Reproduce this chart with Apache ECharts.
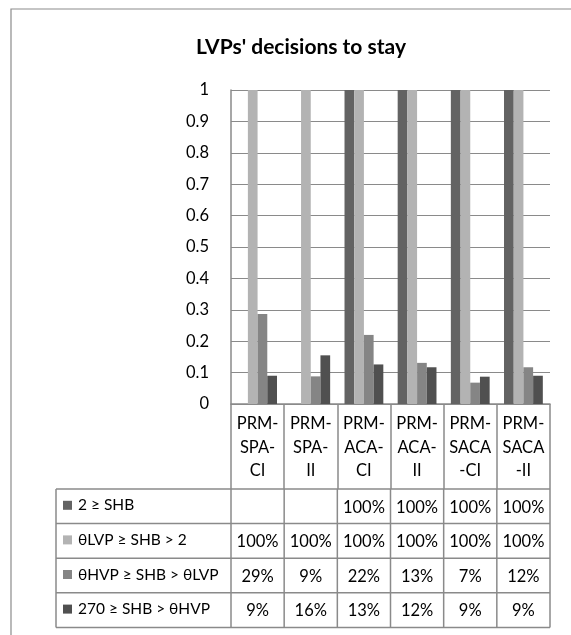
<!DOCTYPE html>
<html>
<head>
<meta charset="utf-8">
<script src="https://cdn.jsdelivr.net/npm/echarts@6/dist/echarts.min.js"></script>
<style>
  html, body { margin: 0; padding: 0; background: #fff; }
  #chart { width: 571px; height: 635px; }
</style>
</head>
<body>
<div id="chart"></div>
<script>
// categories (x axis) and series
const categories = ['PRM-\nSPA-\nCI', 'PRM-\nSPA-\nII', 'PRM-\nACA-\nCI', 'PRM-\nACA-\nII', 'PRM-\nSACA\n-CI', 'PRM-\nSACA\n-II']
const seriesNames = ['2 ≥ SHB', 'θLVP ≥ SHB > 2', 'θHVP ≥ SHB > θLVP', '270 ≥ SHB > θHVP']
const band1 = [null, null, 1, 1, 1, 1]
const band2 = [1, 1, 1, 1, 1, 1]
const band3 = [0.287, 0.088, 0.22, 0.131, 0.068, 0.117]
const band4 = [0.09, 0.155, 0.126, 0.117, 0.087, 0.09]
const seriesData = [band1, band2, band3, band4]
const colors = ['#636363', '#b3b3b3', '#858585', '#505050']

const FONT = 'Lato'
const lineColor = '#8a8a8a'

const chart = echarts.init(document.getElementById('chart'))

const option = {
  animation: false,
  title: {
    text: "LVPs' decisions to stay",
    left: 296,
    top: 32,
    textAlign: 'center',
    textStyle: { fontFamily: FONT, fontSize: 21, fontWeight: 'bold', color: '#000' }
  },
  grid: {
    left: 231,
    top: 90,
    width: 319,
    bottom: 231,
    containLabel: false
  },
  xAxis: {
    type: 'category',
    data: categories,
    axisLine: { lineStyle: { color: lineColor, width: 1.5 } },
    axisTick: { show: true, length: 85, lineStyle: { color: lineColor, width: 1.5 } },
    axisLabel: {
      fontFamily: FONT,
      fontSize: 16.5,
      lineHeight: 23.5,
      color: '#000',
      margin: 8,
      interval: 0
    }
  },
  yAxis: {
    type: 'value',
    min: 0,
    max: 1,
    interval: 0.1,
    axisLine: { show: true, lineStyle: { color: lineColor, width: 1.5 } },
    axisTick: { show: false },
    splitLine: { lineStyle: { color: lineColor, width: 1.2 } },
    axisLabel: {
      fontFamily: FONT,
      fontSize: 16.5,
      color: '#000',
      margin: 22,
      formatter: v => String(+v.toFixed(1))
    }
  },
  series: seriesNames.map((name, i) => ({
    name: name,
    type: 'bar',
    data: seriesData[i],
    barGap: '0%',
    barCategoryGap: '27%',
    itemStyle: { color: colors[i] }
  }))
}
chart.setOption(option)

// data table under the axis, placed from the axis scale
function drawTable () {
  const c0 = chart.convertToPixel({ xAxisIndex: 0 }, 0)
  const c1 = chart.convertToPixel({ xAxisIndex: 0 }, 1)
  const bw = c1 - c0
  const yBase = chart.convertToPixel({ yAxisIndex: 0 }, 0)
  const top = yBase + 85
  const rowH = 34.6
  const tableLeft = 56
  const right = c0 - bw / 2 + bw * categories.length
  const bottom = top + rowH * seriesNames.length
  const els = []
  const ls = { stroke: lineColor, lineWidth: 1.5 }

  // outer chart frame
  els.push({ type: 'rect', shape: { x: 11, y: 9, width: 620, height: 700 }, style: { fill: null, stroke: '#8c8c8c', lineWidth: 1.2 }, silent: true })

  for (let r = 0; r <= seriesNames.length; r++) {
    const y = top + r * rowH
    els.push({ type: 'line', shape: { x1: tableLeft, y1: y, x2: right, y2: y }, style: ls })
  }
  els.push({ type: 'line', shape: { x1: tableLeft, y1: top, x2: tableLeft, y2: bottom }, style: ls })
  for (let k = 0; k <= categories.length; k++) {
    const x = c0 - bw / 2 + k * bw
    els.push({ type: 'line', shape: { x1: x, y1: top, x2: x, y2: bottom }, style: ls })
  }

  seriesNames.forEach((name, r) => {
    const cy = top + r * rowH + rowH / 2
    els.push({ type: 'rect', shape: { x: 63, y: cy - 5.5, width: 9, height: 9 }, style: { fill: colors[r] } })
    els.push({
      type: 'text',
      style: { x: 78, y: cy - 1, text: name, font: '15.5px ' + FONT, fill: '#000', textVerticalAlign: 'middle' }
    })
    seriesData[r].forEach((v, k) => {
      if (v == null) return
      els.push({
        type: 'text',
        style: {
          x: chart.convertToPixel({ xAxisIndex: 0 }, k),
          y: cy + 1,
          text: Math.round(v * 100) + '%',
          font: '16.5px ' + FONT,
          fill: '#000',
          textAlign: 'center',
          textVerticalAlign: 'middle'
        }
      })
    })
  })
  chart.setOption({ graphic: { elements: els } })
}
drawTable()
</script>
</body>
</html>
